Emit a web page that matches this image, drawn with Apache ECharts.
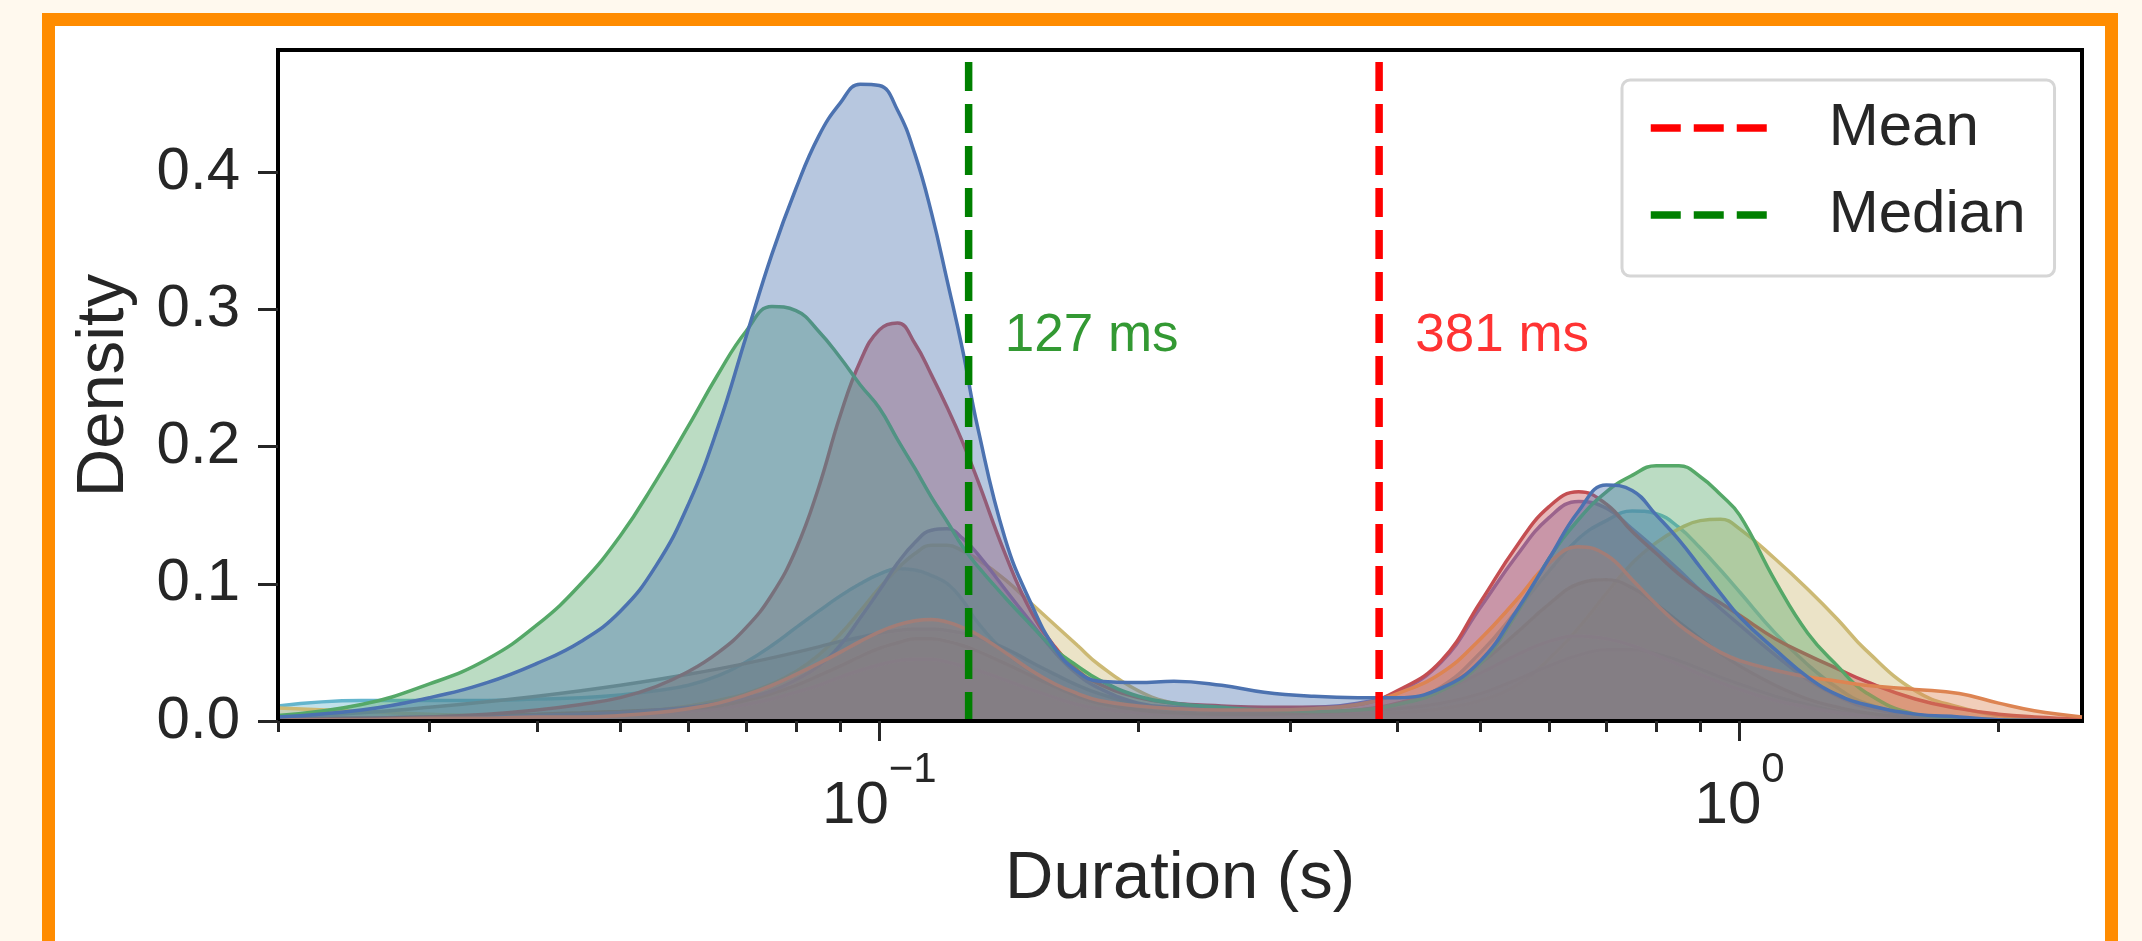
<!DOCTYPE html>
<html>
<head>
<meta charset="utf-8">
<script src="https://cdn.jsdelivr.net/npm/echarts@6/dist/echarts.min.js"></script>
<style>
html, body { margin: 0; padding: 0; width: 2142px; height: 941px; overflow: hidden; background: #FFF9EE; }
#frame { position: absolute; left: 42px; top: 13px; width: 2076px; height: 1000px; box-sizing: border-box; border: 13px solid #FF8C00; background: #fff; }
#main { position: absolute; left: 0; top: 0; width: 2142px; height: 941px; }
</style>
</head>
<body>
<div id="frame"></div>
<div id="main"></div>
<script>
let X = [0.02,0.025,0.03,0.035,0.04,0.045,0.05,0.055,0.06,0.065,0.07,0.075,0.08,0.085,0.09,0.095,
    0.1,0.105,0.11,0.115,0.12,0.125,0.13,0.14,0.15,0.16,0.17,0.18,0.2,0.22,0.25,0.28,0.32,0.36,0.4,0.45,
    0.5,0.55,0.6,0.65,0.7,0.75,0.8,0.85,0.9,0.95,1.0,1.1,1.2,1.3,1.4,1.6,1.8,2.0,2.2,2.5];

// density per group (same order as X)
let blueVals = [0.003,0.008,0.017,0.028,0.042,0.058,0.08,0.113,0.158,0.215,0.28,0.34,0.388,0.426,0.45,0.464,
    0.463,0.445,0.413,0.37,0.32,0.27,0.215,0.133,0.086,0.053,0.036,0.029,0.028,0.029,0.026,0.021,0.018,0.017,0.017,0.024,
    0.044,0.08,0.118,0.153,0.172,0.168,0.15,0.132,0.112,0.093,0.076,0.052,0.032,0.019,0.012,0.005,0.003,0.001,0.0005,0.0002];
let orangeVals = [0.001,0.001,0.002,0.002,0.003,0.003,0.004,0.006,0.009,0.013,0.019,0.026,0.034,0.042,0.05,0.058,
    0.065,0.07,0.073,0.074,0.072,0.068,0.063,0.05,0.037,0.027,0.02,0.015,0.011,0.009,0.008,0.008,0.009,0.012,0.02,0.035,
    0.06,0.088,0.115,0.127,0.121,0.103,0.085,0.07,0.059,0.05,0.044,0.037,0.032,0.029,0.026,0.023,0.02,0.013,0.0075,0.003];
let greenVals = [0.004,0.012,0.027,0.045,0.07,0.1,0.135,0.175,0.215,0.253,0.284,0.302,0.299,0.284,0.265,0.245,
    0.228,0.205,0.184,0.163,0.145,0.127,0.113,0.09,0.07,0.052,0.04,0.03,0.018,0.013,0.01,0.008,0.007,0.008,0.012,0.022,
    0.042,0.078,0.118,0.147,0.167,0.179,0.186,0.186,0.178,0.165,0.15,0.102,0.064,0.04,0.021,0.005,0.002,0.001,0,0];
let redVals = [0.001,0.002,0.003,0.005,0.008,0.012,0.017,0.025,0.036,0.05,0.068,0.092,0.125,0.17,0.222,0.262,
    0.285,0.29,0.275,0.252,0.228,0.203,0.176,0.122,0.08,0.054,0.037,0.027,0.017,0.013,0.011,0.01,0.01,0.012,0.022,0.044,
    0.087,0.127,0.156,0.167,0.158,0.138,0.122,0.107,0.095,0.086,0.077,0.06,0.048,0.038,0.029,0.016,0.009,0.005,0.003,0.0015];
let purpleVals = [0.002,0.002,0.003,0.003,0.004,0.005,0.006,0.008,0.01,0.013,0.017,0.022,0.03,0.04,0.055,0.075,
    0.095,0.115,0.13,0.139,0.14,0.133,0.122,0.096,0.072,0.05,0.034,0.024,0.013,0.01,0.009,0.009,0.01,0.013,0.021,0.043,
    0.083,0.12,0.148,0.16,0.155,0.14,0.125,0.11,0.095,0.082,0.07,0.048,0.03,0.018,0.01,0.004,0.002,0.001,0,0];
let brownVals = [0.002,0.002,0.003,0.004,0.005,0.006,0.007,0.008,0.009,0.011,0.015,0.02,0.026,0.033,0.04,0.047,
    0.053,0.057,0.06,0.06,0.058,0.055,0.051,0.042,0.033,0.025,0.018,0.013,0.008,0.006,0.005,0.005,0.006,0.008,0.013,0.024,
    0.042,0.064,0.085,0.1,0.103,0.097,0.085,0.072,0.06,0.049,0.04,0.026,0.016,0.01,0.006,0.002,0,0,0,0];
let pinkVals = [0.001,0.001,0.002,0.002,0.003,0.003,0.004,0.005,0.007,0.009,0.012,0.016,0.021,0.026,0.032,0.037,
    0.041,0.044,0.045,0.045,0.043,0.04,0.037,0.03,0.023,0.017,0.012,0.009,0.006,0.005,0.004,0.004,0.005,0.007,0.012,0.022,
    0.035,0.048,0.058,0.062,0.06,0.055,0.048,0.041,0.034,0.028,0.023,0.015,0.01,0.006,0.004,0.001,0,0,0,0];
let grayVals = [0.003,0.006,0.01,0.014,0.018,0.022,0.026,0.03,0.034,0.038,0.042,0.046,0.05,0.054,0.058,0.061,
    0.064,0.066,0.067,0.067,0.066,0.064,0.061,0.053,0.043,0.034,0.026,0.02,0.012,0.009,0.007,0.006,0.006,0.007,0.009,0.013,
    0.02,0.03,0.04,0.048,0.052,0.052,0.049,0.044,0.038,0.032,0.027,0.018,0.012,0.007,0.004,0.001,0,0,0,0];
let oliveVals = [0.0095,0.007,0.005,0.004,0.004,0.005,0.006,0.008,0.011,0.015,0.02,0.027,0.036,0.048,0.063,0.08,
    0.097,0.111,0.122,0.128,0.128,0.124,0.118,0.103,0.086,0.07,0.055,0.041,0.022,0.013,0.008,0.006,0.005,0.005,0.006,0.009,
    0.015,0.026,0.045,0.068,0.093,0.115,0.13,0.14,0.146,0.147,0.14,0.118,0.096,0.074,0.052,0.022,0.01,0.004,0.002,0.001];
let cyanVals = [0.011,0.015,0.015,0.015,0.016,0.017,0.019,0.022,0.026,0.033,0.043,0.055,0.068,0.08,0.091,0.1,
    0.107,0.111,0.11,0.106,0.1,0.088,0.072,0.05,0.036,0.025,0.018,0.013,0.01,0.008,0.007,0.006,0.006,0.007,0.012,0.025,
    0.05,0.08,0.109,0.133,0.146,0.153,0.151,0.141,0.126,0.11,0.094,0.064,0.041,0.024,0.013,0.004,0.001,0,0,0];

// seaborn "deep" colours, first group is drawn last (on top)
let groupNames  = ['blue', 'orange', 'green', 'red', 'purple', 'brown', 'pink', 'gray', 'olive', 'cyan'];
let groupColors = ['#4C72B0', '#DD8452', '#55A868', '#C44E52', '#8172B3', '#937860', '#DA8BC3', '#8C8C8C', '#CCB974', '#64B5CD'];
let groupVals   = [blueVals, orangeVals, greenVals, redVals, purpleVals, brownVals, pinkVals, grayVals, oliveVals, cyanVals];

let meanX = 0.381, medianX = 0.127;
let yTicks = [0, 0.1, 0.2, 0.3, 0.4];
let xMajor = [0.1, 1];
let xMinor = [0.02,0.03,0.04,0.05,0.06,0.07,0.08,0.09,0.2,0.3,0.4,0.5,0.6,0.7,0.8,0.9,2];

const FONT = '"Liberation Sans", Arial, sans-serif';
const TXT = '#262626';
const XMIN = 0.02, XMAX = 2.5, YMAX = 0.4889;

let chart = echarts.init(document.getElementById('main'));

// each group gets its own z so a later fill covers the earlier outlines
let series = [];
for (let i = groupNames.length - 1; i >= 0; i--) {
    series.push({
        name: groupNames[i],
        type: 'line',
        z: 2 + (groupNames.length - 1 - i),
        data: X.map((x, k) => [x, groupVals[i][k]]),
        smooth: 0.45,
        symbol: 'none',
        silent: true,
        lineStyle: { color: groupColors[i], width: 3.5 },
        areaStyle: { color: groupColors[i], opacity: 0.4 }
    });
}

// mean / median markers
[['Mean', meanX, '#FF0000'], ['Median', medianX, '#008000']].forEach(([name, v, c]) => {
    series.push({
        name: name,
        type: 'line',
        data: [[v, 0], [v, YMAX]],
        symbol: 'none',
        silent: true,
        z: 20,
        itemStyle: { color: c },
        lineStyle: { color: c, width: 7.5, type: [29, 13] }
    });
    series.push({
        type: 'scatter',
        data: [[v * 1.1, 0.28]],
        symbolSize: 1,
        silent: true,
        z: 21,
        itemStyle: { color: 'transparent' },
        label: {
            show: true, position: 'right', distance: 0,
            formatter: Math.round(v * 1000) + ' ms',
            fontSize: 53, fontFamily: FONT, color: c
        }
    });
});

chart.setOption({
    animation: false,
    grid: { left: 278, top: 50, width: 1804, height: 671, show: true, borderColor: '#000', borderWidth: 4 },
    legend: {
        data: ['Mean', 'Median'],
        orient: 'vertical', left: 1622, top: 80, z: 40,
        padding: [18, 29, 31, 25], itemGap: 27, itemWidth: 116, itemHeight: 16,
        borderColor: '#D6D6D6', borderWidth: 3, borderRadius: 8,
        backgroundColor: 'rgba(255,255,255,0.8)',
        selectedMode: false,
        itemStyle: { color: 'transparent', borderColor: 'transparent', borderWidth: 0 },
        lineStyle: { width: 7.5, type: [30, 13] },
        formatter: n => '{g|}' + n,
        textStyle: { fontSize: 60, lineHeight: 60, color: TXT, fontFamily: FONT, rich: { g: { width: 57 } } }
    },
    xAxis: [{
        type: 'log', logBase: 10, min: XMIN, max: XMAX, position: 'bottom', z: 30,
        name: 'Duration (s)', nameLocation: 'middle', nameGap: 125, nameMoveOverlap: false,
        nameTextStyle: { fontSize: 67, lineHeight: 67, color: TXT, fontFamily: FONT },
        axisLine: { show: true, onZero: false, lineStyle: { color: '#000', width: 4 } },
        axisTick: { show: true, length: 20, lineStyle: { color: TXT, width: 3 }, customValues: xMajor },
        axisLabel: {
            customValues: xMajor, margin: 28,
            formatter: v => '{b|10}{s|' + String(Math.round(Math.log10(v))).replace('-', '\u2212') + '}',
            rich: {
                b: { fontSize: 60, lineHeight: 87, verticalAlign: 'bottom', color: TXT, fontFamily: FONT },
                s: { fontSize: 42, lineHeight: 42, verticalAlign: 'top', color: TXT, fontFamily: FONT }
            }
        },
        splitLine: { show: false }
    }, {
        type: 'log', logBase: 10, min: XMIN, max: XMAX, position: 'bottom', z: 30,
        axisLine: { show: false },
        axisLabel: { show: false },
        axisTick: { show: true, length: 11, lineStyle: { color: TXT, width: 3 }, customValues: xMinor },
        splitLine: { show: false }
    }],
    yAxis: {
        type: 'value', min: 0, max: YMAX, z: 30,
        name: 'Density', nameLocation: 'middle', nameGap: 140, nameRotate: 90, nameMoveOverlap: false,
        nameTextStyle: { fontSize: 67, lineHeight: 67, color: TXT, fontFamily: FONT },
        axisLine: { show: true, lineStyle: { color: '#000', width: 4 } },
        axisTick: { show: true, length: 20, lineStyle: { color: TXT, width: 3 }, customValues: yTicks },
        axisLabel: { customValues: yTicks, margin: 38, fontSize: 60, color: TXT, fontFamily: FONT, formatter: v => v.toFixed(1) },
        splitLine: { show: false }
    },
    series: series
});
</script>
</body>
</html>
